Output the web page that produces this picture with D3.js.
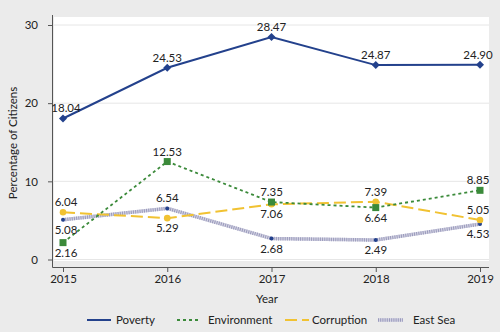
<!DOCTYPE html>
<html>
<head>
<meta charset="utf-8">
<script src="https://cdn.jsdelivr.net/npm/d3@7"></script>
<style>
  body { margin: 0; }
  svg { display: block; font-family: Lato, sans-serif; }
</style>
</head>
<body>
<svg id="chart"></svg>
<script>
const WIDTH = 500;
const HEIGHT = 332;
const FONT = 'Lato, sans-serif';

const years = [2015, 2016, 2017, 2018, 2019];
const yTicks = [0, 10, 20, 30];
const poverty = [18.04, 24.53, 28.47, 24.87, 24.90];
const environment = [2.16, 12.53, 7.35, 6.64, 8.85];
const corruption = [6.04, 5.29, 7.06, 7.39, 5.05];
const eastSea = [5.08, 6.54, 2.68, 2.49, 4.53];
// label placement: 1 = above the point, -1 = below
const povertyPos = [1, 1, 1, 1, 1];
const environmentPos = [-1, 1, 1, -1, 1];
const corruptionPos = [1, -1, -1, 1, 1];
const eastSeaPos = [-1, 1, -1, -1, -1];

const series = [
	{ name: 'Poverty', values: poverty, pos: povertyPos, color: '#23418c', dash: null, width: 2, marker: 'diamond' },
	{ name: 'Environment', values: environment, pos: environmentPos, color: '#3b8a3a', dash: '3,3', width: 1.8, marker: 'square' },
	{ name: 'Corruption', values: corruption, pos: corruptionPos, color: '#f1c232', dash: '12,5', width: 2, marker: 'circle' },
	{ name: 'East Sea', values: eastSea, pos: eastSeaPos, color: '#a9a9c6', dash: null, width: 3.5, marker: 'dot' }
];

const svg = d3.select('#chart').attr('width', WIDTH).attr('height', HEIGHT);

svg.append('rect').attr('width', WIDTH).attr('height', HEIGHT).attr('fill', '#ebebeb');

const plot = { left: 54, right: 489, top: 17, bottom: 261 };

svg.append('rect')
	.attr('x', plot.left)
	.attr('y', plot.top)
	.attr('width', plot.right - plot.left)
	.attr('height', plot.bottom - plot.top)
	.attr('fill', '#ffffff');

const x = d3.scalePoint().domain(years).range([63, 480]);
const y = d3.scaleLinear().domain([0, 30]).range([259.5, 25]);

// grid
svg.append('g')
	.selectAll('line')
	.data(yTicks)
	.enter()
	.append('line')
	.attr('x1', plot.left)
	.attr('x2', plot.right)
	.attr('y1', (d) => y(d))
	.attr('y2', (d) => y(d))
	.attr('stroke', '#e6e6e6')
	.attr('stroke-width', 1);

// axes
const yAxis = svg.append('g')
	.attr('transform', `translate(${plot.left - 1},0)`)
	.call(d3.axisLeft(y).tickValues(yTicks).tickSize(5).tickPadding(10));
const xAxis = svg.append('g')
	.attr('transform', `translate(0,${plot.bottom + 6})`)
	.call(d3.axisBottom(x).tickSize(5).tickPadding(3));

[yAxis, xAxis].forEach((a) => {
	a.select('.domain').attr('stroke', '#555');
	a.selectAll('.tick line').attr('stroke', '#555');
	a.selectAll('.tick text').attr('fill', '#222').attr('font-size', 11.5).attr('font-family', FONT);
});
yAxis.select('.domain').attr('d', `M-0.5,${plot.top - 2}V${plot.bottom + 6.5}`);
xAxis.select('.domain').attr('d', `M${plot.left - 1.5},0.5H${plot.right}`);

svg.append('text')
	.attr('transform', `translate(17,${(plot.top + plot.bottom) / 2 + 4}) rotate(-90)`)
	.attr('text-anchor', 'middle')
	.attr('font-size', 11.5)
	.attr('fill', '#222')
	.text('Percentage of Citizens');

svg.append('text')
	.attr('x', 267)
	.attr('y', 303)
	.attr('text-anchor', 'middle')
	.attr('font-size', 11.5)
	.attr('fill', '#222')
	.text('Year');

const line = d3.line().x((d, i) => x(years[i])).y((d) => y(d));

function drawLine(g, s) {
	if (s.name === 'East Sea') {
		g.append('path').datum(s.values).attr('d', line).attr('fill', 'none')
			.attr('stroke', '#d2d2e2').attr('stroke-width', s.width);
		g.append('path').datum(s.values).attr('d', line).attr('fill', 'none')
			.attr('stroke', '#9a9abc').attr('stroke-width', s.width).attr('stroke-dasharray', '1,1.2');
	} else {
		g.append('path').datum(s.values).attr('d', line).attr('fill', 'none')
			.attr('stroke', s.color).attr('stroke-width', s.width)
			.attr('stroke-dasharray', s.dash);
	}
}

function drawMarker(g, s, cx, cy) {
	if (s.marker === 'diamond') {
		g.append('path').attr('d', `M${cx},${cy - 4}L${cx + 4},${cy}L${cx},${cy + 4}L${cx - 4},${cy}Z`).attr('fill', s.color);
	} else if (s.marker === 'square') {
		g.append('rect').attr('x', cx - 3.5).attr('y', cy - 3.5).attr('width', 7).attr('height', 7).attr('fill', s.color);
	} else if (s.marker === 'circle') {
		g.append('circle').attr('cx', cx).attr('cy', cy).attr('r', 3.3).attr('fill', s.color);
	} else {
		g.append('circle').attr('cx', cx).attr('cy', cy).attr('r', 2).attr('fill', '#23418c');
	}
}

const order = [3, 2, 1, 0];
order.forEach((k) => {
	const s = series[k];
	const g = svg.append('g');
	drawLine(g, s);
	s.values.forEach((v, i) => drawMarker(g, s, x(years[i]), y(v)));
});

series.forEach((s) => {
	svg.append('g')
		.selectAll('text')
		.data(s.values)
		.enter()
		.append('text')
		.attr('x', (d, i) => x(years[i]) + (i === 0 ? 3 : (i === 4 ? -2 : 0)))
		.attr('y', (d, i) => y(d) + (s.pos[i] > 0 ? -6 : 14))
		.attr('text-anchor', 'middle')
		.attr('font-size', 11.5)
		.attr('fill', '#222')
		.text((d) => d.toFixed(2));
});

// legend
const legendX = [87, 177, 285, 378];
const legendTextX = [116, 208, 312, 413];
const legendY = 320;
series.forEach((s, i) => {
	const g = svg.append('g');
	if (s.name === 'East Sea') {
		g.append('line').attr('x1', legendX[i]).attr('x2', legendX[i] + 25).attr('y1', legendY).attr('y2', legendY)
			.attr('stroke', '#d2d2e2').attr('stroke-width', s.width);
		g.append('line').attr('x1', legendX[i]).attr('x2', legendX[i] + 25).attr('y1', legendY).attr('y2', legendY)
			.attr('stroke', '#9a9abc').attr('stroke-width', s.width).attr('stroke-dasharray', '1,1.2');
	} else {
		g.append('line').attr('x1', legendX[i]).attr('x2', legendX[i] + 24).attr('y1', legendY).attr('y2', legendY)
			.attr('stroke', s.color).attr('stroke-width', s.width).attr('stroke-dasharray', s.dash);
	}
	g.append('text').attr('x', legendTextX[i]).attr('y', legendY + 4)
		.attr('font-size', 11.5).attr('fill', '#222').text(s.name);
});
</script>
</body>
</html>
